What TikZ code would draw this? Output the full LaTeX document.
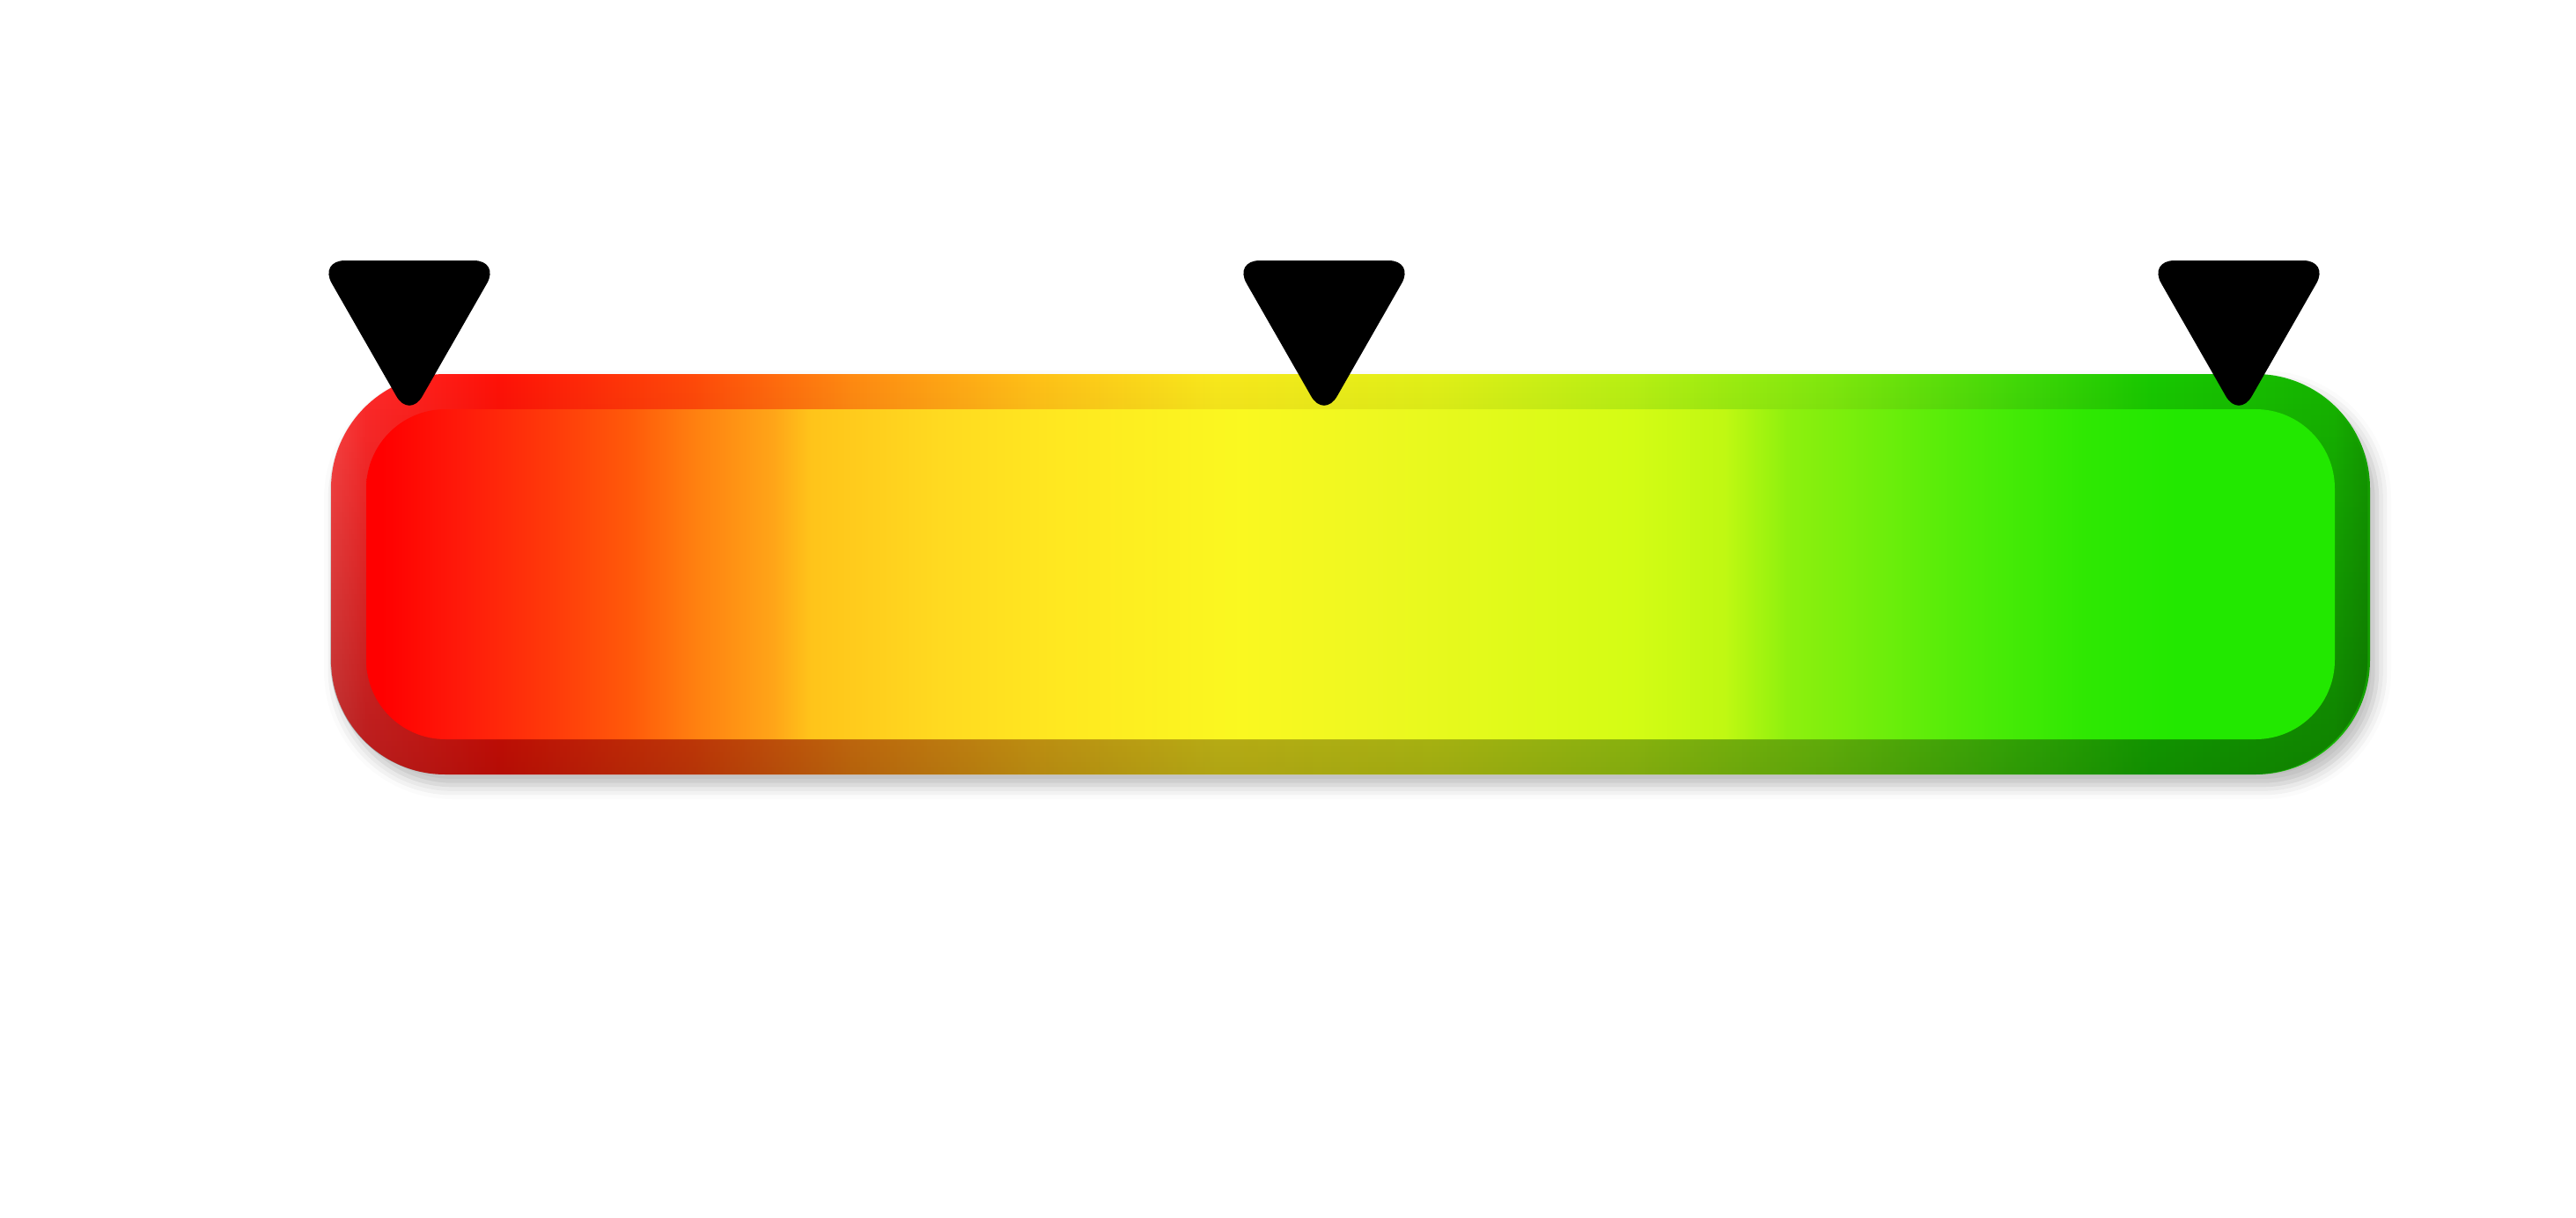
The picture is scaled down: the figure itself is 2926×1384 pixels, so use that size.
\documentclass[tikz,border=0pt]{standalone}
\usetikzlibrary{fadings,shadows.blur}

\definecolor{inA}{HTML}{FF0000}
\definecolor{inB}{HTML}{FF1A0A}
\definecolor{inC}{HTML}{FF3A0A}
\definecolor{inD}{HTML}{FF5A0A}
\definecolor{inE}{HTML}{FF8010}
\definecolor{inF}{HTML}{FFA518}
\definecolor{inG}{HTML}{FFC41A}
\definecolor{inH}{HTML}{FFDA20}
\definecolor{inI}{HTML}{FFE820}
\definecolor{inJ}{HTML}{FAF820}
\definecolor{inK}{HTML}{EEF820}
\definecolor{inL}{HTML}{D4FC14}
\definecolor{inM}{HTML}{C0F812}
\definecolor{inN}{HTML}{8EF00E}
\definecolor{inO}{HTML}{50EC08}
\definecolor{inP}{HTML}{2EE802}
\definecolor{inQ}{HTML}{22E800}

\definecolor{rimA}{HTML}{FF4444}
\definecolor{rimB}{HTML}{FF2A2A}
\definecolor{rimC}{HTML}{FF1208}
\definecolor{rimD}{HTML}{FF4A0A}
\definecolor{rimE}{HTML}{FF8A12}
\definecolor{rimF}{HTML}{FFC018}
\definecolor{rimG}{HTML}{F8E81C}
\definecolor{rimH}{HTML}{E0F018}
\definecolor{rimI}{HTML}{B8F014}
\definecolor{rimJ}{HTML}{80E80E}
\definecolor{rimK}{HTML}{40D808}
\definecolor{rimL}{HTML}{18C800}
\definecolor{rimM}{HTML}{16B400}
\definecolor{rimN}{HTML}{149C00}

% bar colours, left (bad) to right (good)
\pgfdeclarehorizontalshading{barinner}{100bp}{color(0bp)=(inA); color(25bp)=(inA);
  color(25.4bp)=(inA); color(27.4bp)=(inB); color(29.7bp)=(inC); color(31.7bp)=(inD);
  color(33.35bp)=(inE); color(35.35bp)=(inF); color(36.3bp)=(inG); color(39.6bp)=(inH);
  color(42.6bp)=(inI); color(47.25bp)=(inJ); color(50.55bp)=(inK); color(57.15bp)=(inL);
  color(59.5bp)=(inM); color(61.1bp)=(inN); color(65.7bp)=(inO); color(68.7bp)=(inP);
  color(71bp)=(inQ); color(75bp)=(inQ); color(100bp)=(inQ)}
\pgfdeclarehorizontalshading{barouter}{100bp}{color(0bp)=(rimA); color(25bp)=(rimA);
  color(25.86bp)=(rimB); color(29.1bp)=(rimC); color(33.9bp)=(rimD); color(37.76bp)=(rimE);
  color(42.2bp)=(rimF); color(46.7bp)=(rimG); color(52.1bp)=(rimH); color(56.9bp)=(rimI);
  color(61.7bp)=(rimJ); color(66.45bp)=(rimK); color(69.65bp)=(rimL); color(74.1bp)=(rimM);
  color(75bp)=(rimN); color(100bp)=(rimN)}
\tikzfading[name=barshade,top color=transparent!100,middle color=transparent!100,
  bottom color=transparent!71]

\begin{document}
\begin{tikzpicture}[x=0.1mm,y=-0.1mm,
  outerbar/.style={shade,shading=barouter,rounded corners=13mm,inner sep=0pt,
    minimum width=231.6mm,minimum height=45.5mm,
    blur shadow={shadow xshift=0.8mm,shadow yshift=-1.2mm,shadow blur radius=1.6mm,shadow opacity=28},
    postaction={fill=black,path fading=barshade}},
  innerbar/.style={shade,shading=barinner,rounded corners=9mm,inner sep=0pt,
    minimum width=223.6mm,minimum height=37.5mm},
  marker/.style={fill=black,rounded corners=3mm}]
  \useasboundingbox (0,0) rectangle (2926,1384);
  \node[outerbar] (gauge) at (1534,652.5) {};
  \node[innerbar] (gaugein) at (gauge.center) {};
  % pointers
  \foreach \x in {465,1504,2543}
    \fill[marker] (\x-103,296) -- (\x+103,296) -- (\x,476) -- cycle;
\end{tikzpicture}
\end{document}
